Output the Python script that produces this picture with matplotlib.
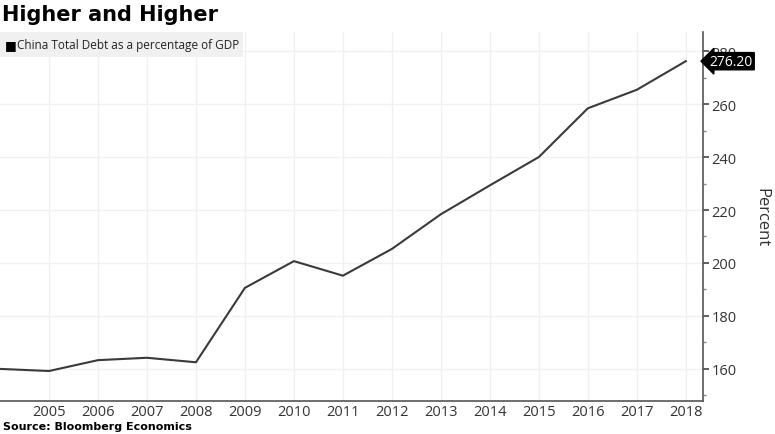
import matplotlib
matplotlib.use("Agg")
import matplotlib.pyplot as plt
from matplotlib.ticker import MultipleLocator

years = [2004, 2005, 2006, 2007, 2008, 2009, 2010, 2011, 2012, 2013, 2014, 2015, 2016, 2017, 2018]
debt = [160.0, 159.2, 163.3, 164.2, 162.5, 190.6, 200.7, 195.2, 205.3, 218.4, 229.3, 240.0, 258.4, 265.4, 276.2]
xtick_years = list(range(2005, 2019))
ytick_vals = [160, 180, 200, 220, 240, 260, 280]

fig = plt.figure(figsize=(7.75, 4.35), dpi=100)
ax = fig.add_axes([0.0, 0.076, 0.907, 0.848])

ax.plot(years, debt, color="#3a3a3a", lw=1.5, zorder=3)

ax.set_xlim(2004, 2018.35)
ax.set_ylim(147.9, 287.2)

ax.yaxis.tick_right()
ax.yaxis.set_label_position("right")
ax.set_yticks(ytick_vals)
ax.yaxis.set_minor_locator(MultipleLocator(10))
ax.set_xticks(xtick_years)
ax.set_xticklabels([str(y) for y in xtick_years])

for s in ["top", "left"]:
    ax.spines[s].set_visible(False)
ax.spines["right"].set_color("#555555")
ax.spines["bottom"].set_color("#555555")
ax.spines["right"].set_linewidth(1.2)
ax.spines["bottom"].set_linewidth(1.2)

ax.tick_params(axis="y", which="major", direction="out", length=4, width=1.2,
               color="#444444", labelsize=10.5, labelcolor="#333333", pad=2)
ax.tick_params(axis="y", which="minor", direction="out", length=2, width=1,
               color="#888888")
ax.tick_params(axis="x", which="major", length=0, labelsize=10.5,
               labelcolor="#333333", pad=2)
for lab in ax.get_xticklabels() + ax.get_yticklabels():
    lab.set_fontfamily("Open Sans")

ax.grid(True, which="major", color="#f0f0f0", lw=1, zorder=0)

ax.set_ylabel("Percent", rotation=-90, fontsize=12, color="#333333",
              labelpad=24, family="Open Sans")

# last value tag
ax.annotate("276.20", xy=(1.0, debt[-1]), xycoords=("axes fraction", "data"),
            xytext=(5, 0), textcoords="offset points", ha="left", va="center",
            fontsize=10, color="white", family="Open Sans",
            bbox=dict(boxstyle="larrow,pad=0.08", fc="black", ec="black"),
            annotation_clip=False, zorder=5)

# legend box
fig.patches.append(plt.Rectangle((0.0, 1 - 58 / 435), 243 / 775, 25 / 435,
                                 transform=fig.transFigure, fc="#f0f0f0",
                                 ec="none", zorder=1))
fig.text(5 / 775, 1 - 45.5 / 435, "■", fontsize=9, va="center", ha="left",
         color="black", family="DejaVu Sans")
fig.text(17 / 775, 1 - 45.5 / 435, "China Total Debt as a percentage of GDP",
         fontsize=8.5, va="center", ha="left", color="#222222",
         family="Open Sans")

fig.text(2 / 775, 1 - 15 / 435, "Higher and Higher", fontsize=15,
         fontweight="bold", va="center", ha="left", family="DejaVu Sans")
fig.text(3 / 775, 1 - 427 / 435, "Source: Bloomberg Economics", fontsize=8,
         fontweight="bold", va="center", ha="left", family="DejaVu Sans")

fig.savefig("out.png", dpi=100)
